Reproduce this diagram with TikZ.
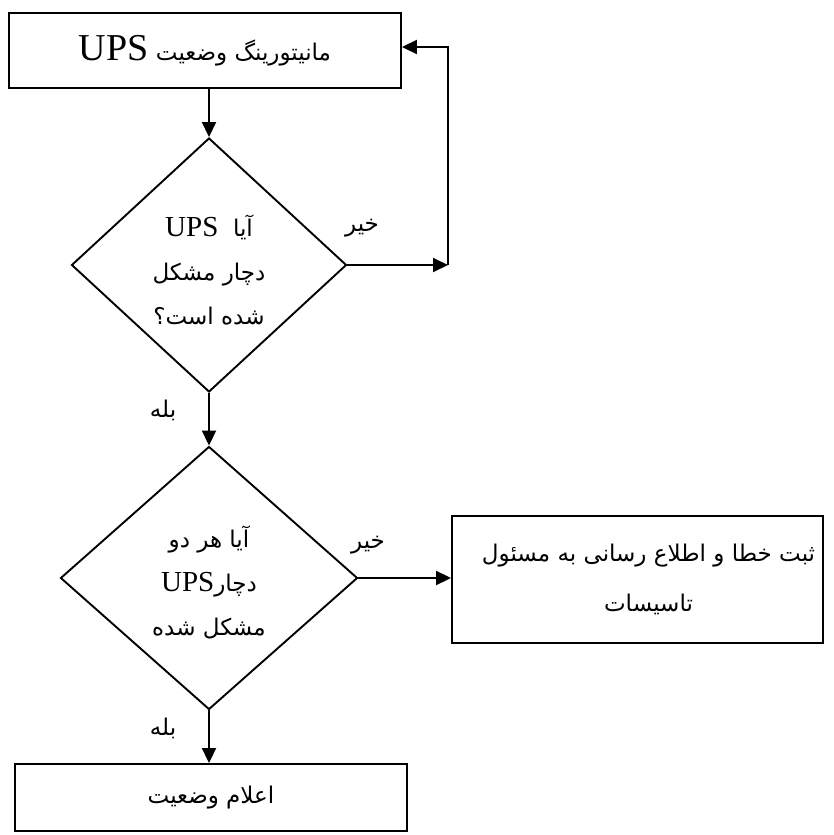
\documentclass[tikz,border=0pt]{standalone}
\usepackage{fontspec}
\setmainfont{Liberation Serif}
\newfontfamily\farsi[Script=Arabic]{DejaVu Sans}
\TeXXeTstate=1
\usetikzlibrary{shapes.geometric,arrows.meta}
\newcommand{\fa}[1]{{\farsi\beginR #1\endR}} % right-to-left Persian line
\newcommand{\en}[1]{\beginL{\rmfamily #1}\endL} % latin word inside Persian
\newcommand{\topgap}{\rule{0pt}{31pt}} % pushes diamond text a bit down
\tikzset{
  box/.style={draw, line width=1.9pt, rectangle, inner sep=0pt, align=center},
  decision/.style={draw, line width=1.9pt, diamond, inner sep=0pt, align=center},
  arr/.style={line width=1.9pt, -{Triangle[length=15pt,width=14pt]}},
  answer/.style={inner sep=0pt, font=\fontsize{23}{26}\selectfont}
}
\begin{document}
\begin{tikzpicture}[x=1pt,y=-1pt]
\useasboundingbox (0,0) rectangle (833,835);
\def\txt{\fontsize{23}{44}\selectfont} % text size in the boxes

% boxes and decisions
\node[box, minimum width=392pt, minimum height=75pt, font=\txt] (monitor) at (205,50.5)
  {\fa{مانیتورینگ وضعیت \en{\fontsize{38}{38}\selectfont UPS}}};
\node[decision, minimum width=275pt, minimum height=254pt, font=\txt] (check1) at (209,265)
  {\topgap\fa{آیا \ \en{\fontsize{29}{29}\selectfont UPS}}\\ \fa{دچار مشکل}\\ \fa{شده است؟}};
\node[decision, minimum width=297pt, minimum height=263pt, font=\txt] (check2) at (209,578)
  {\topgap\fa{آیا هر دو}\\ \fa{دچار\en{\fontsize{29}{29}\selectfont UPS}}\\ \fa{مشکل شده}};
\node[box, minimum width=371pt, minimum height=127pt, font=\txt] (report) at (637.5,579.5)
  {\hspace*{22pt}\fa{ثبت خطا و اطلاع رسانی به مسئول}\\[6pt] \hspace*{22pt}\fa{تاسیسات}};
\node[box, minimum width=392pt, minimum height=67pt, font=\txt] (announce) at (211,797.5)
  {\fa{اعلام وضعیت}};

% feedback corners
\coordinate (loop) at (448,265);
\coordinate (looptop) at (448,47);

% connectors
\draw[arr] (check1.north |- monitor.south) -- (check1.north);
\draw[arr] (check1.east) -- (loop);
\draw[arr] (loop) -- (looptop) -- (monitor.east |- looptop);
\draw[arr] (check1.south) -- (check2.north);
\draw[arr] (check2.east) -- (check2.east -| report.west);
\draw[arr] (check2.south) -- (check2.south |- announce.north);

% answers
\node[answer] (no1) at (362,228) {\fa{خیر}};
\node[answer] (yes1) at (163,410) {\fa{بله}};
\node[answer] (no2) at (368,545) {\fa{خیر}};
\node[answer] (yes2) at (163,728) {\fa{بله}};
\end{tikzpicture}
\end{document}
